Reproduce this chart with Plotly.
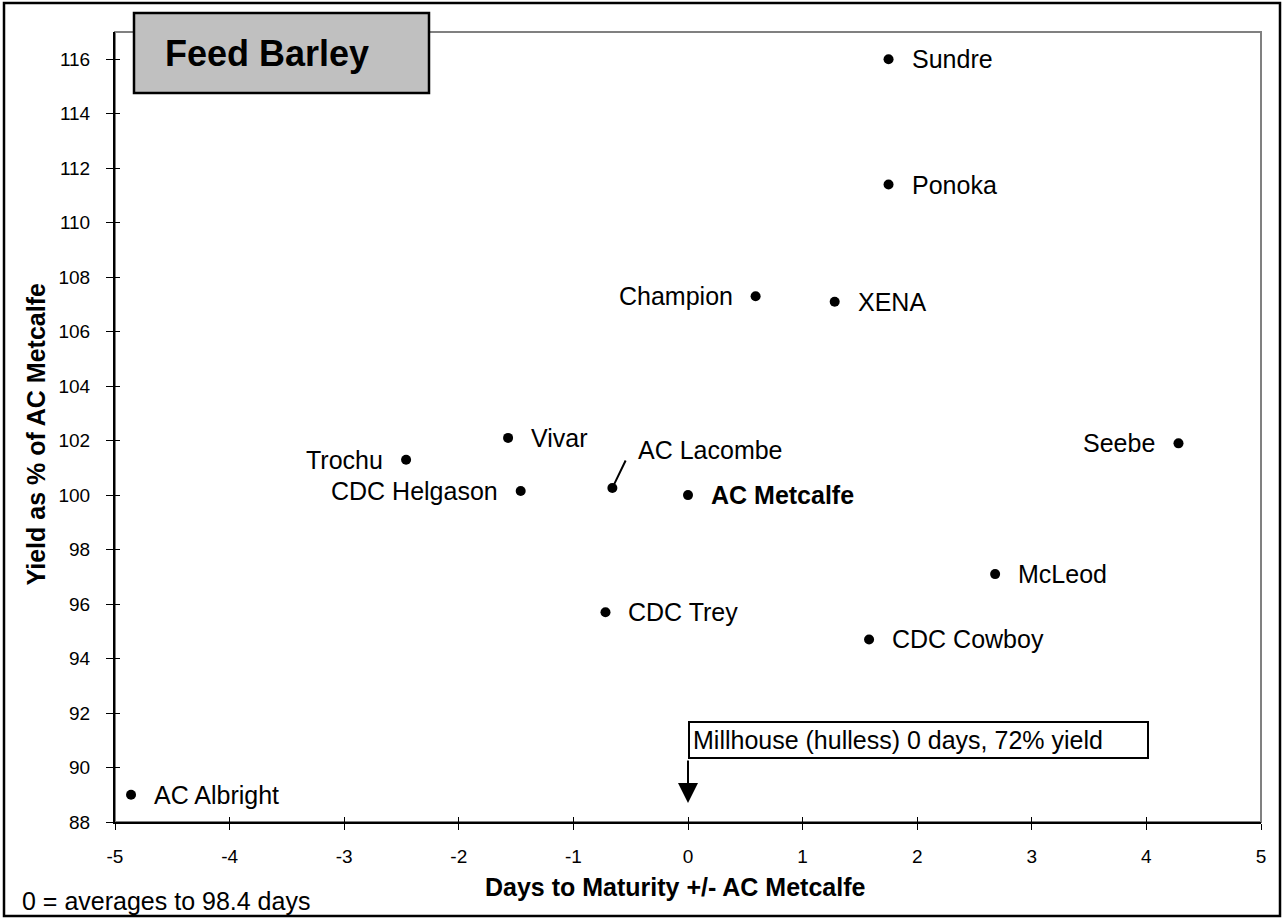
import plotly.graph_objects as go

# ---- data ----
varieties = ["Sundre", "Ponoka", "Champion", "XENA", "Vivar", "Trochu", "CDC Helgason",
             "AC Lacombe", "AC Metcalfe", "Seebe", "McLeod", "CDC Trey", "CDC Cowboy", "AC Albright"]
days_vs_check = [1.75, 1.75, 0.59, 1.28, -1.57, -2.46, -1.46, -0.66, 0.0, 4.28, 2.68, -0.72, 1.58, -4.86]
yield_pct = [116.0, 111.4, 107.3, 107.1, 102.1, 101.3, 100.15, 100.26, 100.0, 101.9, 97.1, 95.7, 94.7, 89.0]

millhouse_days = 0
millhouse_text = "Millhouse (hulless) 0 days, 72% yield"
x_ticks = [-5, -4, -3, -2, -1, 0, 1, 2, 3, 4, 5]
x_tick_labels = ["-5", "-4", "-3", "-2", "-1", "0", "1", "2", "3", "4", "5"]
y_ticks = [88, 90, 92, 94, 96, 98, 100, 102, 104, 106, 108, 110, 112, 114, 116]

# label placement (style only)
label_side = {"Champion": "left", "Trochu": "left", "CDC Helgason": "left", "Seebe": "left",
              "AC Lacombe": "leader"}
bold_labels = {"AC Metcalfe"}

FONT = "Liberation Sans, Arial, sans-serif"
W, H = 1283, 918
L, R, T, B = 115, 1261, 32, 822  # plot area in pixels


def px_x(p):
    return (p - L) / (R - L)


def px_y(p):
    return (B - p) / (B - T)


fig = go.Figure()
fig.add_trace(go.Scatter(x=days_vs_check, y=yield_pct, mode="markers",
                         marker=dict(size=10, color="black"), hoverinfo="text",
                         text=varieties, cliponaxis=False))
# empty trace for overlay axes (cross tick marks)
fig.add_trace(go.Scatter(x=[], y=[], xaxis="x2", yaxis="y2", showlegend=False))

annotations = []
for name, xv, yv in zip(varieties, days_vs_check, yield_pct):
    side = label_side.get(name, "right")
    txt = f"<b>{name}</b>" if name in bold_labels else name
    if side == "leader":
        annotations.append(dict(x=xv, y=yv, xref="x", yref="y", text="", showarrow=True,
                                arrowhead=0, arrowwidth=2, arrowcolor="black",
                                ax=14, ay=-29, standoff=4))
        annotations.append(dict(x=xv, y=yv, xref="x", yref="y", text=txt, showarrow=False,
                                xanchor="left", yanchor="middle", xshift=24, yshift=38,
                                font=dict(family=FONT, size=25, color="black")))
    else:
        annotations.append(dict(x=xv, y=yv, xref="x", yref="y", text=txt, showarrow=False,
                                xanchor="left" if side == "right" else "right",
                                yanchor="middle", xshift=21 if side == "right" else -21,
                                font=dict(family=FONT, size=25, color="black")))

# Millhouse note box + arrow
annotations.append(dict(x=millhouse_days, y=90.31, xref="x", yref="y", text=millhouse_text,
                        showarrow=False, xanchor="left", yanchor="bottom", align="left",
                        width=451, bgcolor="white", bordercolor="black", borderwidth=2,
                        borderpad=3, font=dict(family=FONT, size=25, color="black")))
annotations.append(dict(x=millhouse_days, y=88.7, xref="x", yref="y", text="", showarrow=True,
                        arrowhead=2, arrowsize=2.0, arrowwidth=2, arrowcolor="black",
                        ax=0, ay=-44))

# titles and notes
annotations.append(dict(x=px_x(163), y=px_y(53), xref="paper", yref="paper",
                        text="<b>Feed Barley</b>", showarrow=False, xanchor="left",
                        yanchor="middle", font=dict(family=FONT, size=36, color="black")))
annotations.append(dict(x=px_x(675), y=px_y(887), xref="paper", yref="paper",
                        text="<b>Days to Maturity +/- AC Metcalfe</b>", showarrow=False,
                        xanchor="center", yanchor="middle",
                        font=dict(family=FONT, size=25, color="black")))
annotations.append(dict(x=px_x(35), y=px_y(434.5), xref="paper", yref="paper",
                        text="<b>Yield as % of AC Metcalfe</b>", showarrow=False, textangle=-90,
                        xanchor="center", yanchor="middle",
                        font=dict(family=FONT, size=25, color="black")))
annotations.append(dict(x=px_x(20), y=px_y(901), xref="paper", yref="paper",
                        text="0 = averages to 98.4 days", showarrow=False,
                        xanchor="left", yanchor="middle",
                        font=dict(family=FONT, size=25, color="black")))

shapes = [
    # plot area frame (gray top/right)
    dict(type="rect", xref="paper", yref="paper", x0=0, x1=1, y0=0, y1=1,
         line=dict(color="#808080", width=2), layer="below"),
    # title box
    dict(type="rect", xref="paper", yref="paper", x0=px_x(134), x1=px_x(429),
         y0=px_y(93), y1=px_y(13), fillcolor="#C0C0C0",
         line=dict(color="black", width=2.5), layer="above"),
    # outer chart border
    dict(type="rect", xref="paper", yref="paper", x0=px_x(4), x1=px_x(1280),
         y0=px_y(916), y1=px_y(3), line=dict(color="black", width=2.5), layer="above"),
]

axis_font = dict(family=FONT, size=19, color="black")
fig.update_layout(
    width=W, height=H,
    margin=dict(l=L, r=W - R, t=T, b=H - B),
    plot_bgcolor="white", paper_bgcolor="white",
    showlegend=False,
    font=dict(family=FONT, color="black"),
    xaxis=dict(range=[-5, 5], tickvals=x_ticks, ticktext=x_tick_labels, ticks="outside",
               ticklen=6, tickwidth=1, tickcolor="black", showline=True, linecolor="black",
               linewidth=2, showgrid=False, zeroline=False, tickfont=axis_font,
               ticklabelstandoff=10),
    yaxis=dict(range=[88, 117], tickvals=y_ticks, ticks="outside", ticklen=7, tickwidth=1,
               tickcolor="black", showline=True, linecolor="black", linewidth=2,
               showgrid=False, zeroline=False, tickfont=axis_font, ticklabelstandoff=12),
    xaxis2=dict(range=[-5, 5], tickvals=x_ticks, overlaying="x", side="bottom", anchor="y2",
                ticks="inside", ticklen=5, tickwidth=1, tickcolor="black",
                showticklabels=False, showline=False, showgrid=False, zeroline=False),
    yaxis2=dict(range=[88, 117], tickvals=y_ticks, overlaying="y", side="left", anchor="x2",
                ticks="inside", ticklen=5, tickwidth=1, tickcolor="black",
                showticklabels=False, showline=False, showgrid=False, zeroline=False),
    annotations=annotations,
    shapes=shapes,
)

fig.write_html("out.html", config={"displayModeBar": False},
               post_script="document.body.style.margin='0';")
